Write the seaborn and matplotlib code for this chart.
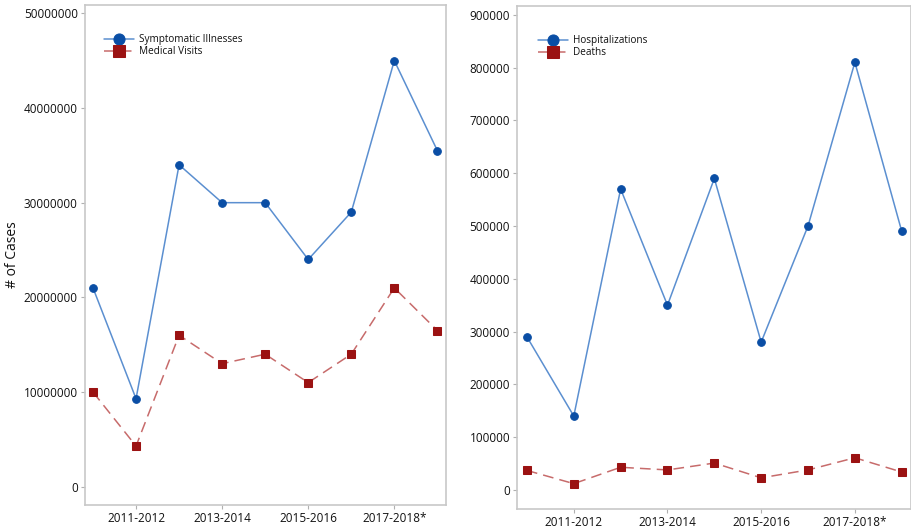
import numpy as np
import pandas as pd
import matplotlib
matplotlib.use('Agg')
import matplotlib.pyplot as plt
import seaborn as sns

seasons = ['2010-2011', '2011-2012', '2012-2013', '2013-2014', '2014-2015',
           '2015-2016', '2016-2017', '2017-2018*', '2018-2019']
illnesses = [21000000, 9300000, 34000000, 30000000, 30000000, 24000000, 29000000, 45000000, 35500000]
visits = [10000000, 4300000, 16000000, 13000000, 14000000, 11000000, 14000000, 21000000, 16500000]
hospitalizations = [290000, 140000, 570000, 350000, 590000, 280000, 500000, 810000, 490000]
deaths = [37000, 12000, 43000, 38000, 51000, 23000, 38000, 61000, 34000]

sns.set_theme(style='white')
plt.rcParams['font.family'] = ['Open Sans', 'DejaVu Sans']
plt.rcParams['text.color'] = '#111111'
plt.rcParams['xtick.labelcolor'] = '#111111'
plt.rcParams['ytick.labelcolor'] = '#111111'
plt.rcParams['axes.labelcolor'] = '#111111'

blue_line = '#5b8fd0'
blue_mark = '#0a4ea5'
red_line = '#c76b6b'
red_mark = '#9b1212'

fig = plt.figure(figsize=(9.12, 5.28), dpi=100)
ax1 = fig.add_axes([0.093, 0.044, 0.396, 0.947])
ax2 = fig.add_axes([0.567, 0.036, 0.432, 0.953])

x = np.arange(len(seasons))


def draw(ax, top, bottom, names):
    sns.lineplot(x=x, y=top, ax=ax, color=blue_line, linewidth=1.1, marker='o', markersize=5.5,
                 markerfacecolor=blue_mark, markeredgecolor=blue_mark, label=names[0])
    sns.lineplot(x=x, y=bottom, ax=ax, color=red_line, linewidth=1.1, linestyle=(0, (7, 4)),
                 marker='s', markersize=5.5, markerfacecolor=red_mark, markeredgecolor=red_mark,
                 label=names[1])
    ax.set_xticks(x[1::2])
    ax.set_xticklabels(seasons[1::2], fontsize=8)
    for s in ax.spines.values():
        s.set_color('#c8c8c8')
        s.set_linewidth(1.2)
    ax.tick_params(axis='both', length=3, width=0.8, color='#b0b0b0', labelsize=8.5, pad=2,
                   bottom=True, left=True)
    ax.legend(loc='upper left', bbox_to_anchor=(0.035, 0.955), frameon=False, fontsize=7.2,
              handlelength=3, markerscale=1.45, labelspacing=0.1, borderaxespad=0.3,
              handletextpad=0.5)
    ax.set_xlabel('')


draw(ax1, illnesses, visits, ['Symptomatic Illnesses', 'Medical Visits'])
ax1.set_xlim(-0.19, 8.2)
ax1.set_ylim(-1900000, 50900000)
ax1.set_yticks([0, 10000000, 20000000, 30000000, 40000000, 50000000])
ax1.set_yticklabels(['0', '10000000', '20000000', '30000000', '40000000', '50000000'])
ax1.set_ylabel('# of Cases', fontsize=10, labelpad=3)

draw(ax2, hospitalizations, deaths, ['Hospitalizations', 'Deaths'])
ax2.set_xlim(-0.21, 8.2)
ax2.set_ylim(-36000, 917000)
ax2.set_yticks(range(0, 900001, 100000))
ax2.set_yticklabels([str(v) for v in range(0, 900001, 100000)])
ax2.set_ylabel('')

fig.savefig('out.png', dpi=100)
